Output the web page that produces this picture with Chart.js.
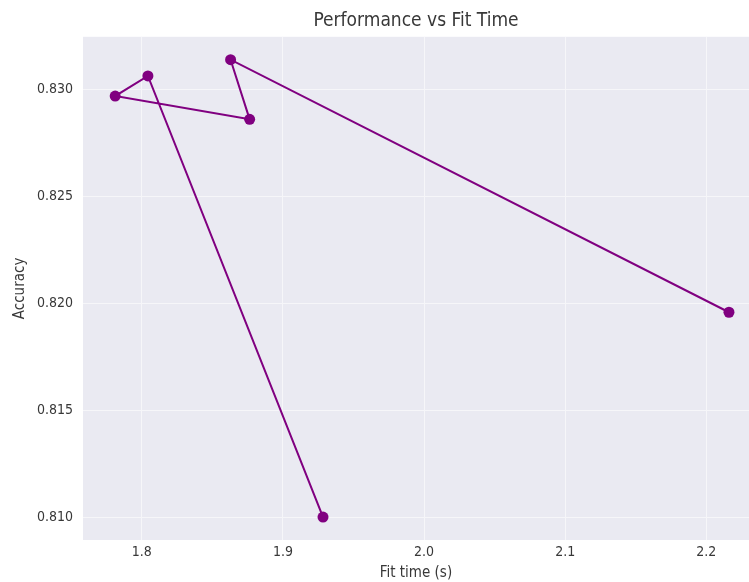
<!DOCTYPE html>
<html>
<head>
<meta charset="utf-8">
<script src="https://cdn.jsdelivr.net/npm/chart.js@4.4.0/dist/chart.umd.min.js"></script>
<style>
  html, body { margin: 0; padding: 0; background: #ffffff; }
  #wrap { width: 749px; height: 582px; }
</style>
</head>
<body>
<div id="wrap"><canvas id="c" width="749" height="582"></canvas></div>
<script>
// Fit time (s) and accuracy for each run, in run order
const fitTimes = [1.9284, 1.8043, 1.7811, 1.8764, 1.8629, 2.2161];
const accuracies = [0.81001, 0.83064, 0.82970, 0.82861, 0.83140, 0.81959];

// Axis tick values
const xTicks = [1.8, 1.9, 2.0, 2.1, 2.2];
const yTicks = [0.810, 0.815, 0.820, 0.825, 0.830];

const points = fitTimes.map((t, i) => ({ x: t, y: accuracies[i] }));

// Shade the plotting area like a seaborn "darkgrid" panel
const panelBackground = {
  id: 'panelBackground',
  beforeDraw(chart) {
    const { ctx, chartArea } = chart;
    ctx.save();
    ctx.fillStyle = '#eaeaf2';
    ctx.fillRect(chartArea.left, chartArea.top,
                 chartArea.right - chartArea.left, chartArea.bottom - chartArea.top);
    ctx.restore();
  }
};

const fontFamily = "'DejaVu Sans Condensed', 'DejaVu Sans', sans-serif";
const textColor = '#383838';

new Chart(document.getElementById('c'), {
  type: 'line',
  data: {
    datasets: [{
      data: points,
      borderColor: '#800080',
      backgroundColor: '#800080',
      borderWidth: 2,
      pointRadius: 5.5,
      pointHoverRadius: 5.5,
      pointBorderWidth: 0,
      tension: 0,
      clip: false
    }]
  },
  options: {
    responsive: false,
    animation: false,
    layout: { autoPadding: false, padding: { left: 0, right: 0, top: 0, bottom: 0 } },
    plugins: {
      legend: { display: false },
      tooltip: { enabled: false },
      title: {
        display: true,
        text: 'Performance vs Fit Time',
        fullSize: false,
        color: textColor,
        font: { family: fontFamily, size: 19, weight: 'normal' },
        padding: { top: 10, bottom: 4 }
      }
    },
    scales: {
      x: {
        type: 'linear',
        min: 1.7583,
        max: 2.2303,
        border: { display: false },
        grid: { color: '#f6f6f9', lineWidth: 1, drawTicks: false },
        afterBuildTicks(scale) { scale.ticks = xTicks.map(v => ({ value: v })); },
        afterFit(scale) { scale.height = 42; },
        ticks: {
          color: textColor,
          padding: 4,
          font: { family: fontFamily, size: 14 },
          callback: v => Number(v).toFixed(1)
        },
        title: {
          display: true,
          text: 'Fit time (s)',
          color: textColor,
          font: { family: fontFamily, size: 15 },
          padding: { top: 0, bottom: 0 }
        }
      },
      y: {
        type: 'linear',
        min: 0.80894,
        max: 0.83247,
        border: { display: false },
        grid: { color: '#f6f6f9', lineWidth: 1, drawTicks: false },
        afterBuildTicks(scale) { scale.ticks = yTicks.map(v => ({ value: v })); },
        afterFit(scale) { scale.width = 83; },
        ticks: {
          color: textColor,
          padding: 10,
          font: { family: fontFamily, size: 14 },
          callback: v => Number(v).toFixed(3)
        },
        title: {
          display: true,
          text: 'Accuracy',
          color: textColor,
          font: { family: fontFamily, size: 15 },
          padding: { top: 11, bottom: 0 }
        }
      }
    }
  },
  plugins: [panelBackground]
});
</script>
</body>
</html>
